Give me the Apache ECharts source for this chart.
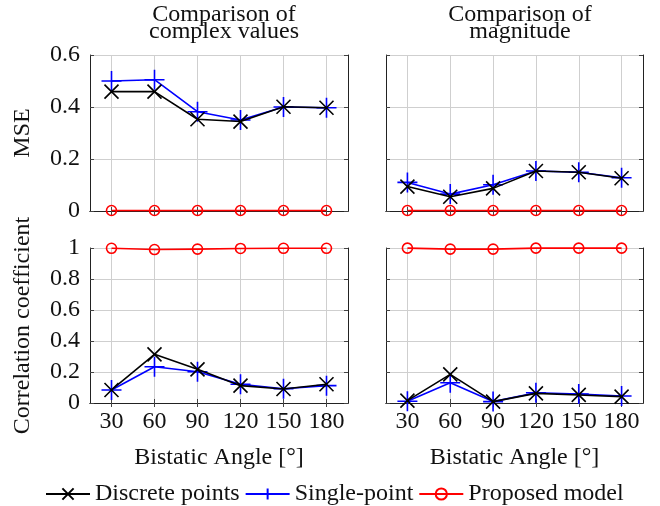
<!DOCTYPE html>
<html><head><meta charset="utf-8">
<script src="https://cdn.jsdelivr.net/npm/echarts@6/dist/echarts.min.js"></script>
<style>html,body{margin:0;padding:0;background:#fff}#c{width:660px;height:506px}</style>
</head><body><div id="c"></div><script>
const angles = [30, 60, 90, 120, 150, 180];
const seriesNames = ['Discrete points', 'Single-point', 'Proposed model'];
const panelTitles = ['Comparison of\ncomplex values', 'Comparison of\nmagnitude'];
const mseTicks = [0, 0.2, 0.4, 0.6];
const corrTicks = [0, 0.2, 0.4, 0.6, 0.8, 1];

const mseComplexDiscrete = [0.459, 0.459, 0.353, 0.344, 0.401, 0.397];
const mseComplexSingle   = [0.500, 0.505, 0.382, 0.350, 0.400, 0.397];
const mseComplexProposed = [0.002, 0.002, 0.002, 0.002, 0.002, 0.002];
const mseMagDiscrete = [0.094, 0.055, 0.087, 0.154, 0.149, 0.126];
const mseMagSingle   = [0.110, 0.065, 0.101, 0.154, 0.149, 0.128];
const mseMagProposed = [0.002, 0.002, 0.002, 0.002, 0.002, 0.002];
const corrComplexDiscrete = [0.084, 0.314, 0.217, 0.112, 0.090, 0.121];
const corrComplexSingle   = [0.084, 0.234, 0.202, 0.121, 0.092, 0.112];
const corrComplexProposed = [0.998, 0.990, 0.993, 0.997, 0.998, 0.998];
const corrMagDiscrete = [0.015, 0.185, 0.009, 0.062, 0.052, 0.041];
const corrMagSingle   = [0.011, 0.131, 0.009, 0.066, 0.058, 0.045];
const corrMagProposed = [0.999, 0.993, 0.993, 0.999, 0.999, 0.999];

const FONT = '"Liberation Serif", "Times New Roman", serif';
const FS = 24;
const grids = [
  {left: 90, top: 55, width: 258, height: 156},
  {left: 386, top: 55, width: 257, height: 156},
  {left: 90, top: 248, width: 258, height: 155},
  {left: 386, top: 248, width: 257, height: 155}
];
const panelData = [
  [mseComplexDiscrete, mseComplexSingle, mseComplexProposed],
  [mseMagDiscrete, mseMagSingle, mseMagProposed],
  [corrComplexDiscrete, corrComplexSingle, corrComplexProposed],
  [corrMagDiscrete, corrMagSingle, corrMagProposed]
];
const styles = [
  {color: '#000', symbol: 'path://M0,0L10,10M10,0L0,10', size: 14},
  {color: '#0000ff', symbol: 'path://M5,0L5,10M0,5L10,5', size: 20},
  {color: '#ff0000', symbol: 'circle', size: 10}
];

const xAxes = [], yAxes = [], series = [];
grids.forEach((g, i) => {
  const isBottom = i >= 2, isLeft = i % 2 === 0;
  const yTicks = isBottom ? corrTicks : mseTicks;
  const common = {
    type: 'value', gridIndex: i, min: 15, max: 195,
    axisLine: {show: true, lineStyle: {color: '#222', width: 1}},
    axisTick: {show: true, inside: true, length: 4, customValues: angles, lineStyle: {color: '#444'}}
  };
  xAxes.push(Object.assign({}, common, {
    position: 'bottom',
    splitLine: {show: true, lineStyle: {color: '#cfcfcf', width: 1}},
    axisLabel: {show: isBottom, customValues: angles, color: '#111', fontFamily: FONT, fontSize: FS, margin: 7},
    name: isBottom ? 'Bistatic Angle [°]' : '',
    nameLocation: 'middle', nameGap: 43,
    nameTextStyle: {fontFamily: FONT, fontSize: FS, color: '#111'}
  }));
  xAxes.push(Object.assign({}, common, {
    position: 'top', splitLine: {show: false}, axisLabel: {show: false}
  }));
  const yCommon = {
    type: 'value', gridIndex: i, min: 0, max: yTicks[yTicks.length - 1], interval: 0.2,
    axisLine: {show: true, lineStyle: {color: '#222', width: 1}},
    axisTick: {show: true, inside: true, length: 4, lineStyle: {color: '#444'}}
  };
  yAxes.push(Object.assign({}, yCommon, {
    position: 'left',
    splitLine: {show: true, lineStyle: {color: '#cfcfcf', width: 1}},
    axisLabel: {show: isLeft, color: '#111', fontFamily: FONT, fontSize: FS, margin: 10,
      formatter: v => String(+v.toFixed(1))},
    name: isLeft ? (isBottom ? 'Correlation coefficient' : 'MSE') : '',
    nameLocation: 'middle', nameGap: 55, nameRotate: 90,
    nameTextStyle: {fontFamily: FONT, fontSize: FS, color: '#111'}
  }));
  yAxes.push(Object.assign({}, yCommon, {
    position: 'right', splitLine: {show: false}, axisLabel: {show: false}
  }));
  panelData[i].forEach((vals, k) => {
    const st = styles[k];
    series.push({
      type: 'line', name: seriesNames[k],
      xAxisIndex: i * 2, yAxisIndex: i * 2,
      data: angles.map((a, j) => [a, vals[j]]),
      symbol: st.symbol, symbolSize: st.size, showAllSymbol: true,
      lineStyle: {color: st.color, width: 1.6},
      itemStyle: {color: k === 2 ? 'rgba(0,0,0,0)' : st.color, borderColor: st.color, borderWidth: 1.6},
      clip: false, z: 3 - k + 2, animation: false
    });
  });
});

const chart = echarts.init(document.getElementById('c'), null, {renderer: 'canvas'});
chart.setOption({
  animation: false,
  backgroundColor: '#fff',
  title: panelTitles.map((t, i) => ({
    text: t, left: i === 0 ? 219 : 515, top: 1, textAlign: 'center',
    textStyle: {fontFamily: FONT, fontSize: FS, fontWeight: 'normal', color: '#111', lineHeight: 17}
  })),
  legend: {
    data: seriesNames, top: 477, left: 40,
    itemWidth: 44, itemHeight: 14, itemGap: 5,
    textStyle: {fontFamily: FONT, fontSize: FS, color: '#111'}
  },
  grid: grids,
  xAxis: xAxes,
  yAxis: yAxes,
  series: series
});
</script></body></html>
